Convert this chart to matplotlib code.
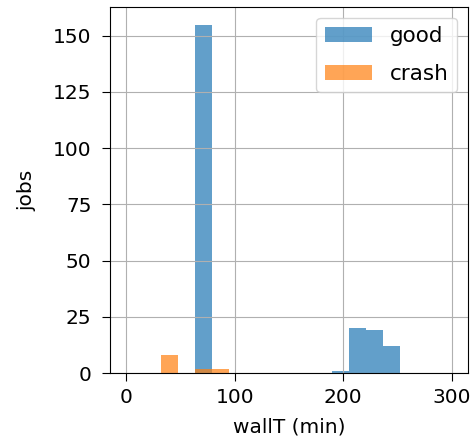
import numpy as np
from matplotlib import pyplot as plt

# histogram bins shared by both series
edges = np.linspace(0, 300, 20)
good_counts = [0, 0, 0, 0, 155, 0, 0, 0, 0, 0, 0, 0, 1, 20, 19, 12, 0, 0, 0]
crash_counts = [0, 0, 8, 0, 2, 2, 0, 0, 0, 0, 0, 0, 0, 0, 0, 0, 0, 0, 0]

centers = (edges[:-1] + edges[1:]) / 2

plt.rcParams['font.size'] = 14.5
fig = plt.figure(figsize=(4.73, 4.43), dpi=100)
ax = fig.add_axes([0.233, 0.158, 0.756, 0.826])

ax.hist(centers, bins=edges, weights=good_counts, alpha=0.7, label="good")
ax.hist(centers, bins=edges, weights=crash_counts, alpha=0.7, label="crash")

ax.set_xticks([0, 100, 200, 300])
ax.set_yticks([0, 25, 50, 75, 100, 125, 150])
ax.tick_params(axis="x", length=5.5, pad=5)
ax.tick_params(axis="y", length=5.5, pad=8)
ax.grid(True, color="#b0b0b0")
ax.set_xlabel("wallT (min)", labelpad=8)
ax.set_ylabel("jobs", labelpad=12)
ax.legend(loc="upper right", fontsize=15.5, labelspacing=0.8, handlelength=2.2)

fig.savefig("out.png")
